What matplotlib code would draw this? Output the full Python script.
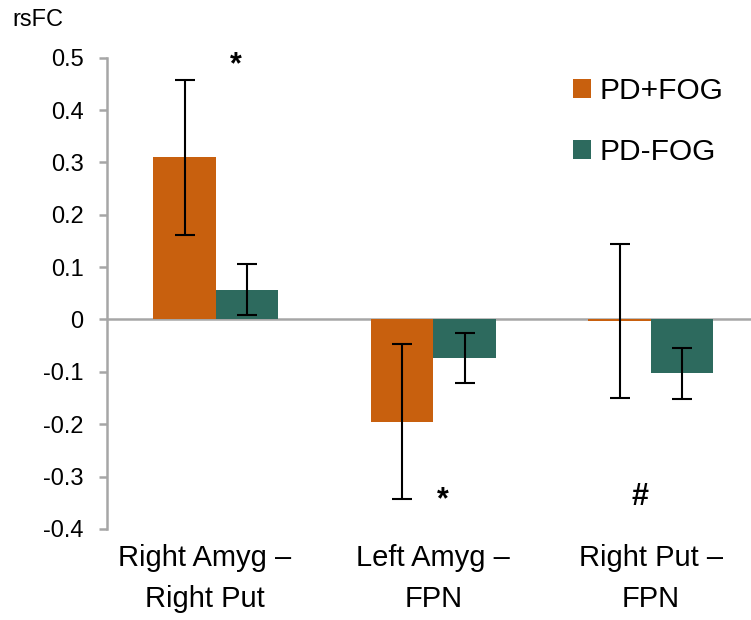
import numpy as np
import matplotlib
matplotlib.use("Agg")
import matplotlib.pyplot as plt
import matplotlib.transforms as mtransforms

plt.rcParams["font.family"] = ["Liberation Sans", "DejaVu Sans"]

categories = ["Right Amyg \u2013\nRight Put", "Left Amyg \u2013\nFPN", "Right Put \u2013\nFPN"]
groups = ["PD+FOG", "PD-FOG"]
fog_mean = [0.31, -0.195, -0.003]
fog_err = [0.148, 0.148, 0.147]
nofog_mean = [0.057, -0.073, -0.103]
nofog_err = [0.048, 0.048, 0.049]
y_ticks = [0.5, 0.4, 0.3, 0.2, 0.1, 0, -0.1, -0.2, -0.3, -0.4]
marks = [("*", 0.09, 0.485), ("*", 1.045, -0.345), ("#", 1.95, -0.34)]

ORANGE = "#C8600E"
TEAL = "#2D6A5E"
GRAY = "#A6A6A6"

fig = plt.figure(figsize=(7.51, 6.2), dpi=100)
ax = fig.add_axes([0.1425, 0.147, 0.8575, 0.76])

x = np.arange(len(categories))
w = 0.287
ek = dict(ecolor="black", elinewidth=1.5, capthick=1.5, capsize=7)
ax.bar(x - w / 2, fog_mean, w, color=ORANGE, label=groups[0], yerr=fog_err,
       error_kw=ek, zorder=2)
ax.bar(x + w / 2, nofog_mean, w, color=TEAL, label=groups[1], yerr=nofog_err,
       error_kw=ek, zorder=2)
ax.axhline(0, color=GRAY, lw=1.8, zorder=1)

ax.set_xlim(-0.5, 2.46)
ax.set_ylim(-0.4, 0.5)
ax.set_yticks(y_ticks)
ax.set_yticklabels([("%g" % v) for v in y_ticks])
ax.set_xticks(x)
ax.set_xticklabels(categories, fontsize=21, linespacing=1.6)
ax.tick_params(axis="x", length=0, pad=11)
ax.tick_params(axis="y", labelsize=17, length=6, width=1.8, color=GRAY, pad=11)

# first category label sits a bit left of its bars in the original
first = ax.get_xticklabels()[0]
first.set_transform(first.get_transform() +
                    mtransforms.ScaledTranslation(-0.11, 0, fig.dpi_scale_trans))

for side in ["top", "right", "bottom"]:
    ax.spines[side].set_visible(False)
ax.spines["left"].set_color(GRAY)
ax.spines["left"].set_linewidth(1.8)

for s, xp, yp in marks:
    ax.text(xp, yp, s, ha="center", va="center", fontsize=22, fontweight="bold")

fig.text(0.017, 1 - 26 / 620, "rsFC", fontsize=17, va="baseline", ha="left")

ax.legend(loc="upper left", bbox_to_anchor=(573 / 751, 1 - 77 / 620),
          bbox_transform=fig.transFigure, frameon=False, fontsize=21.5,
          borderpad=0, borderaxespad=0,
          handlelength=0.6, handleheight=0.6, handletextpad=0.3, labelspacing=1.1)

fig.savefig("out.png")
